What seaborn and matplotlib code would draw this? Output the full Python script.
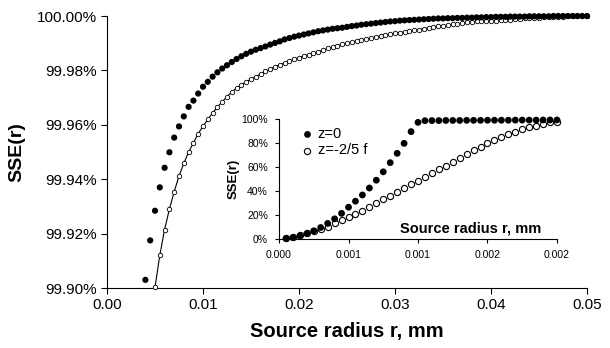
import numpy as np
import matplotlib
matplotlib.use("Agg")
import matplotlib.pyplot as plt
import seaborn as sns
from matplotlib.ticker import FuncFormatter

# main chart: source radius (mm) vs SSE (%)
r_z0 = np.round(np.arange(0.0040, 0.05001, 0.0005), 4)
sse_z0 = [
    99.9030, 99.9175, 99.9284, 99.9370, 99.9442, 99.9499, 99.9553, 99.9594,
    99.9631, 99.9666, 99.9689, 99.9715, 99.9740, 99.9758, 99.9777, 99.9793,
    99.9807, 99.9819, 99.9831, 99.9842, 99.9852, 99.9861, 99.9869, 99.9876,
    99.9882, 99.9888, 99.9895, 99.9901, 99.9907, 99.9914, 99.9919, 99.9924,
    99.9928, 99.9932, 99.9936, 99.9940, 99.9944, 99.9947, 99.9950, 99.9953,
    99.9955, 99.9957, 99.9960, 99.9963, 99.9965, 99.9968, 99.9970, 99.9972,
    99.9974, 99.9976, 99.9978, 99.9980, 99.9981, 99.9983, 99.9984, 99.9985,
    99.9986, 99.9987, 99.9988, 99.9989, 99.9990, 99.9991, 99.9991, 99.9992,
    99.9992, 99.9993, 99.9993, 99.9994, 99.9994, 99.9995, 99.9995, 99.9996,
    99.9996, 99.9997, 99.9997, 99.9997, 99.9998, 99.9998, 99.9998, 99.9998,
    99.9999, 99.9999, 99.9999, 99.9999, 99.9999, 100.0000, 100.0000, 100.0000,
    100.0000, 100.0000, 100.0000, 100.0000, 100.0000,
]
r_z25 = np.round(np.arange(0.0050, 0.05001, 0.0005), 4)
sse_z25 = [
    99.9003, 99.9120, 99.9215, 99.9290, 99.9354, 99.9412, 99.9458, 99.9500,
    99.9533, 99.9568, 99.9594, 99.9620, 99.9643, 99.9666, 99.9684, 99.9704,
    99.9720, 99.9736, 99.9747, 99.9758, 99.9768, 99.9777, 99.9787, 99.9796,
    99.9805, 99.9813, 99.9821, 99.9828, 99.9835, 99.9841, 99.9847, 99.9853,
    99.9858, 99.9863, 99.9869, 99.9874, 99.9881, 99.9886, 99.9891, 99.9896,
    99.9900, 99.9904, 99.9908, 99.9912, 99.9916, 99.9919, 99.9923, 99.9926,
    99.9930, 99.9933, 99.9936, 99.9939, 99.9941, 99.9944, 99.9947, 99.9950,
    99.9953, 99.9956, 99.9959, 99.9962, 99.9964, 99.9966, 99.9969, 99.9971,
    99.9974, 99.9977, 99.9979, 99.9980, 99.9981, 99.9982, 99.9982, 99.9983,
    99.9985, 99.9986, 99.9987, 99.9988, 99.9990, 99.9991, 99.9992, 99.9993,
    99.9994, 99.9995, 99.9996, 99.9997, 99.9998, 99.9998, 99.9999, 99.9999,
    100.0000, 100.0000, 100.0000,
]

# inset: small radii, SSE (%)
r_in = np.round(np.arange(1, 41) * 0.00005, 5)
sse_in_z0 = [
    0.4, 1.2, 2.5, 4.5, 6.8, 9.6, 13.0, 16.8, 21.4, 26.5,
    31.5, 36.7, 42.5, 49.0, 56.0, 63.6, 71.4, 79.7, 89.5, 97.2,
    98.6, 98.7, 98.7, 98.8, 98.8, 98.8, 98.9, 98.9, 98.9, 99.0,
    99.0, 99.0, 99.0, 99.1, 99.1, 99.1, 99.1, 99.2, 99.2, 99.2,
]
sse_in_z25 = [
    0.6, 1.9, 3.2, 4.8, 6.4, 8.3, 10.4, 13.0, 15.5, 18.0,
    20.8, 23.5, 26.6, 29.8, 33.0, 36.0, 39.0, 42.2, 45.6, 48.5,
    51.3, 54.7, 58.0, 61.1, 64.4, 67.8, 70.6, 74.2, 76.9, 79.7,
    82.5, 84.7, 87.2, 89.4, 91.7, 93.1, 94.4, 95.8, 97.2, 97.8,
]

main_xticks = [0.00, 0.01, 0.02, 0.03, 0.04, 0.05]
main_yticks = [99.90, 99.92, 99.94, 99.96, 99.98, 100.00]
in_xticks = [0.0, 0.0005, 0.001, 0.0015, 0.002]
in_xlabels = ["0.000", "0.001", "0.001", "0.002", "0.002"]
in_yticks = [0, 20, 40, 60, 80, 100]

sns.set_style("white")
plt.rcParams['font.family'] = ['Liberation Sans', 'DejaVu Sans']
plt.rcParams['text.color'] = 'black'
plt.rcParams['axes.labelcolor'] = 'black'

fig = plt.figure(figsize=(6.1, 3.48), dpi=100)
ax = fig.add_axes([0.1754, 0.1724, 0.7869, 0.7816])

sns.lineplot(x=r_z25, y=sse_z25, ax=ax, color='black', lw=0.8, marker='o',
             markersize=3.2, markerfacecolor='white', markeredgecolor='black',
             markeredgewidth=0.6, clip_on=False, zorder=3)
sns.scatterplot(x=r_z0, y=sse_z0, ax=ax, color='black', s=20, edgecolor='none',
                clip_on=False, zorder=4)

ax.set_xlim(0, 0.05)
ax.set_ylim(99.90, 100.00)
ax.set_xticks(main_xticks)
ax.set_yticks(main_yticks)
ax.xaxis.set_major_formatter(FuncFormatter(lambda v, p: "%.2f" % v))
ax.yaxis.set_major_formatter(FuncFormatter(lambda v, p: "%.2f%%" % v))
ax.tick_params(direction='out', length=4, width=0.8, labelsize=11,
               bottom=True, left=True, colors='black')
ax.set_xlabel("Source radius r, mm", fontsize=14.5, fontweight='bold', labelpad=7)
ax.set_ylabel("SSE(r)", fontsize=14, fontweight='bold', labelpad=8)
sns.despine(ax=ax)
for s in ['left', 'bottom']:
    ax.spines[s].set_color('black')
    ax.spines[s].set_linewidth(0.8)

# inset
axi = fig.add_axes([0.4574, 0.3132, 0.4557, 0.3448])
axi.patch.set_alpha(0)
sns.scatterplot(x=r_in, y=sse_in_z0, ax=axi, color='black', s=24, edgecolor='none',
                clip_on=False, zorder=4, label="z=0")
sns.scatterplot(x=r_in, y=sse_in_z25, ax=axi, color='white', s=20, edgecolor='black',
                linewidth=0.8, clip_on=False, zorder=3, label="z=-2/5 f")
axi.set_xlim(0, 0.002)
axi.set_ylim(0, 100)
axi.set_xticks(in_xticks)
axi.set_xticklabels(in_xlabels)
axi.set_yticks(in_yticks)
axi.yaxis.set_major_formatter(FuncFormatter(lambda v, p: "%d%%" % v))
axi.tick_params(direction='out', length=3, width=0.8, labelsize=7.5,
                bottom=True, left=True, colors='black', pad=5)
axi.set_xlabel("")
axi.text(0.69, 0.085, "Source radius r, mm", transform=axi.transAxes,
         ha='center', va='center', fontsize=10.5, fontweight='bold')
axi.set_ylabel("SSE(r)", fontsize=9.5, fontweight='bold', labelpad=1)
sns.despine(ax=axi)
for s in ['left', 'bottom']:
    axi.spines[s].set_color('black')
    axi.spines[s].set_linewidth(0.8)
axi.legend(loc='upper left', bbox_to_anchor=(0.05, 0.98), frameon=False,
           fontsize=10.5, handletextpad=0.1, labelspacing=0.15, borderaxespad=0,
           handlelength=1.2)

fig.savefig("out.png", dpi=100)
